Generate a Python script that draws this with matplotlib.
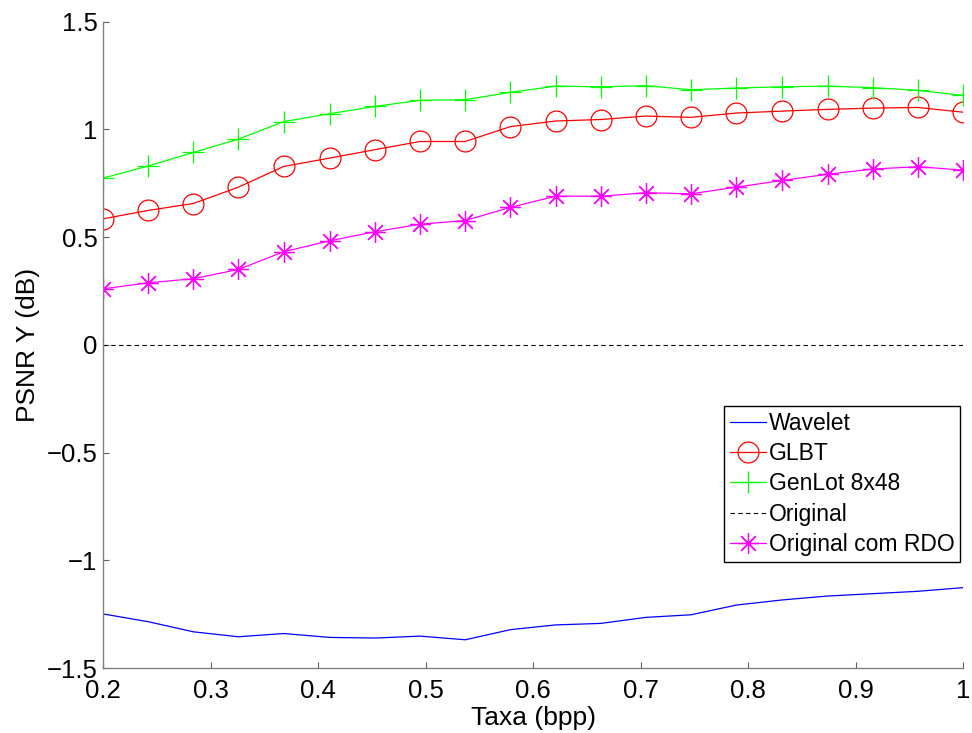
import matplotlib
matplotlib.use("Agg")
import matplotlib.pyplot as plt
from matplotlib.ticker import FixedLocator, FixedFormatter

plt.rcParams['font.family'] = ['Liberation Sans', 'DejaVu Sans']

# Bit rates (bpp)
rate = [0.200, 0.242, 0.284, 0.326, 0.368, 0.411, 0.453, 0.495, 0.537, 0.579,
        0.621, 0.663, 0.705, 0.747, 0.789, 0.832, 0.874, 0.916, 0.958, 1.000]

# PSNR Y gain relative to the original codec (dB)
wavelet = [-1.249, -1.285, -1.332, -1.355, -1.340, -1.358, -1.361, -1.352, -1.369, -1.322,
           -1.300, -1.293, -1.265, -1.253, -1.208, -1.184, -1.166, -1.155, -1.144, -1.127]
glbt = [0.585, 0.624, 0.656, 0.732, 0.828, 0.867, 0.906, 0.944, 0.944, 1.013,
        1.039, 1.046, 1.062, 1.056, 1.076, 1.085, 1.093, 1.099, 1.102, 1.080]
genlot = [0.774, 0.830, 0.893, 0.955, 1.036, 1.073, 1.107, 1.135, 1.138, 1.172,
          1.201, 1.198, 1.203, 1.184, 1.192, 1.198, 1.201, 1.194, 1.181, 1.158]
original = [0.0] * len(rate)
original_rdo = [0.260, 0.288, 0.307, 0.350, 0.432, 0.483, 0.525, 0.560, 0.577, 0.638,
                0.690, 0.690, 0.706, 0.701, 0.732, 0.763, 0.792, 0.816, 0.827, 0.811]

series_names = ['Wavelet', 'GLBT', 'GenLot 8x48', 'Original', 'Original com RDO']

x_ticks = [0.2, 0.3, 0.4, 0.5, 0.6, 0.7, 0.8, 0.9, 1.0]
x_tick_labels = ['0.2', '0.3', '0.4', '0.5', '0.6', '0.7', '0.8', '0.9', '1']
y_ticks = [-1.5, -1.0, -0.5, 0.0, 0.5, 1.0, 1.5]
y_tick_labels = ['\u22121.5', '\u22121', '\u22120.5', '0', '0.5', '1', '1.5']

fig = plt.figure(figsize=(9.72, 7.33), dpi=100)
ax = fig.add_axes([103 / 972, 1 - 668 / 733, 860 / 972, (668 - 21.7) / 733])

lw = 0.9
asterisk = (8, 2, 0)
ax.plot(rate, wavelet, color=(0, 0, 1), lw=lw, label=series_names[0])
ax.plot(rate, glbt, color=(1, 0, 0), lw=lw, marker='o', markersize=15,
        markerfacecolor='none', markeredgewidth=lw, label=series_names[1])
ax.plot(rate, genlot, color=(0, 1, 0), lw=lw, marker='+', markersize=16,
        markeredgewidth=lw, label=series_names[2])
ax.plot(rate, original, color='black', lw=0.8, dashes=(4, 3), label=series_names[3])
ax.plot(rate, original_rdo, color=(1, 0, 1), lw=lw, marker=asterisk, markersize=15,
        markeredgewidth=lw, label=series_names[4])

ax.set_xlim(0.2, 1.0)
ax.set_ylim(-1.5, 1.5)
ax.xaxis.set_major_locator(FixedLocator(x_ticks))
ax.xaxis.set_major_formatter(FixedFormatter(x_tick_labels))
ax.yaxis.set_major_locator(FixedLocator(y_ticks))
ax.yaxis.set_major_formatter(FixedFormatter(y_tick_labels))

for side in ('top', 'right'):
    ax.spines[side].set_visible(False)
for side in ('left', 'bottom'):
    ax.spines[side].set_color('#808080')
    ax.spines[side].set_linewidth(1.0)

ax.tick_params(direction='in', length=4, width=0.8, color='#606060',
               labelsize=18.5, labelcolor='black')
ax.tick_params(axis='x', pad=8)
ax.tick_params(axis='y', pad=4)

ax.set_xlabel('Taxa (bpp)', fontsize=19, labelpad=2)
ax.set_ylabel('PSNR Y (dB)', fontsize=19, labelpad=5)

leg = ax.legend(loc='upper right', bbox_to_anchor=(0.9965, 0.4054),
                borderaxespad=0, fancybox=False, fontsize=16.5,
                handlelength=1.6, handletextpad=0.1, labelspacing=0.32,
                borderpad=0.25, framealpha=1)
leg.get_frame().set_edgecolor('black')
leg.get_frame().set_linewidth(1.0)

fig.savefig('out.png', dpi=100)
